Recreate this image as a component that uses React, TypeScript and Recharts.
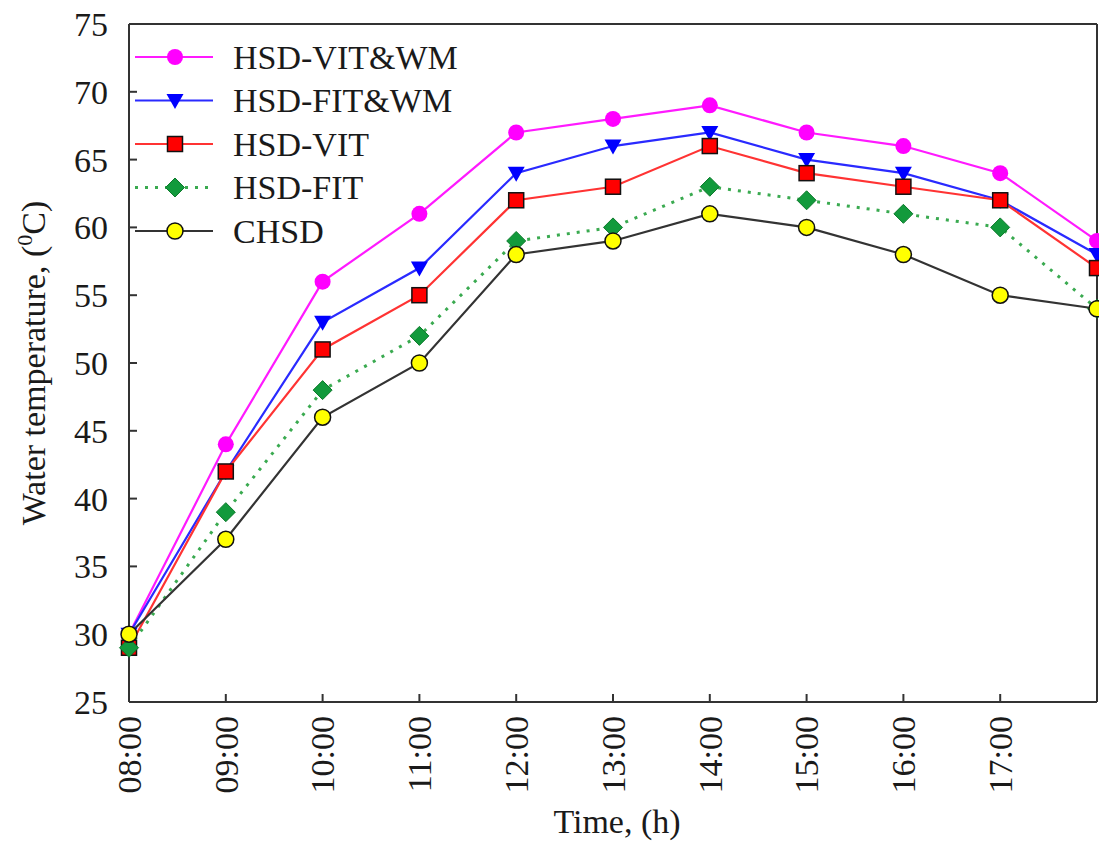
import React from 'react';
import { LineChart, Line, XAxis, YAxis, ReferenceLine, Label } from 'recharts';

const times = ['08:00', '09:00', '10:00', '11:00', '12:00', '13:00', '14:00', '15:00', '16:00', '17:00', '18:00'];
const vitWm = [30, 44, 56, 61, 67, 68, 69, 67, 66, 64, 59];
const fitWm = [30, 42, 53, 57, 64, 66, 67, 65, 64, 62, 58];
const vit = [29, 42, 51, 55, 62, 63, 66, 64, 63, 62, 57];
const fit = [29, 39, 48, 52, 59, 60, 63, 62, 61, 60, 54];
const chsd = [30, 37, 46, 50, 58, 59, 61, 60, 58, 55, 54];
const yTicks = [25, 30, 35, 40, 45, 50, 55, 60, 65, 70, 75];
const xTicks = [0, 1, 2, 3, 4, 5, 6, 7, 8, 9];

const FONT = '"Liberation Serif", "Times New Roman", serif';
const INK = '#1a1a1a';

const series = [
    { key: 'vitWm', name: 'HSD-VIT&WM', line: '#ff1aff', shape: 'circle', fill: '#ff00ff', edge: 'none', dash: undefined },
    { key: 'fitWm', name: 'HSD-FIT&WM', line: '#2a2aff', shape: 'triangle', fill: '#0000ff', edge: 'none', dash: undefined },
    { key: 'vit', name: 'HSD-VIT', line: '#ff3333', shape: 'square', fill: '#ff0000', edge: '#111', dash: undefined },
    { key: 'fit', name: 'HSD-FIT', line: '#3aaa50', shape: 'diamond', fill: '#129a3c', edge: '#0d7a2c', dash: '3 7' },
    { key: 'chsd', name: 'CHSD', line: '#333333', shape: 'circle', fill: '#ffff00', edge: '#111', dash: undefined },
];

const data = times.map((t, i) => ({
    idx: i,
    time: t,
    vitWm: vitWm[i],
    fitWm: fitWm[i],
    vit: vit[i],
    fit: fit[i],
    chsd: chsd[i],
}));

function marker(s: any, x: number, y: number, key?: string) {
    const sw = s.edge === 'none' ? 0 : 1.5;
    if (s.shape === 'circle') {
        return <circle key={key} cx={x} cy={y} r={8} fill={s.fill} stroke={s.edge} strokeWidth={sw} />;
    }
    if (s.shape === 'square') {
        return <rect key={key} x={x - 7.5} y={y - 7.5} width={15} height={15} fill={s.fill} stroke={s.edge} strokeWidth={sw} />;
    }
    if (s.shape === 'triangle') {
        return <polygon key={key} points={`${x - 8.5},${y - 6.5} ${x + 8.5},${y - 6.5} ${x},${y + 8.5}`} fill={s.fill} />;
    }
    // diamond
    return <polygon key={key} points={`${x},${y - 9.5} ${x + 9.5},${y} ${x},${y + 9.5} ${x - 9.5},${y}`} fill={s.fill} stroke={s.edge} strokeWidth={1} />;
}

function TimeTick(props: any) {
    const { x, y, payload } = props;
    return (
        <text x={x} y={y} transform={`rotate(-90 ${x} ${y})`} textAnchor="end" dy="0.35em"
            fontFamily={FONT} fontSize={34} fill={INK}>
            {times[payload.value]}
        </text>
    );
}

function YTitle(props: any) {
    const vb = props.viewBox || { y: 24, height: 678 };
    const cy = vb.y + vb.height / 2;
    const cx = 33;
    return (
        <text x={cx} y={cy} transform={`rotate(-90 ${cx} ${cy})`} textAnchor="middle" dy="0.35em"
            fontFamily={FONT} fontSize={34} fill={INK}>
            Water temperature, (<tspan fontSize={22} dy={-13}>0</tspan><tspan dy={13}>C)</tspan>
        </text>
    );
}

function XTitle(props: any) {
    const vb = props.viewBox || { x: 129, width: 968 };
    return (
        <text x={vb.x + vb.width / 2 + 4} y={833} textAnchor="middle"
            fontFamily={FONT} fontSize={34} fill={INK}>
            Time, (h)
        </text>
    );
}

function LegendBox() {
    return (
        <svg width={360} height={230} style={{ position: 'absolute', left: 130, top: 30 }}>
            {series.map((s, i) => {
                const y = 27 + i * 43.5;
                return (
                    <g key={s.key}>
                        <line x1={5} x2={83} y1={y} y2={y} stroke={s.line} strokeWidth={s.dash ? 3 : 2}
                            strokeDasharray={s.dash} />
                        {marker(s, 45, y)}
                        <text x={103} y={y} dy="0.35em" fontFamily={FONT} fontSize={34} fill={INK}>{s.name}</text>
                    </g>
                );
            })}
        </svg>
    );
}

export default function App() {
    return (
        <div style={{ position: 'absolute', left: 0, top: 0, width: 1099, height: 846, background: '#fff' }}>
            <LineChart width={1099} height={846} data={data} margin={{ top: 24, right: 2, left: 0, bottom: 0 }}>
                <XAxis dataKey="idx" type="number" domain={[0, 10]} ticks={xTicks} interval={0}
                    height={144} tickSize={-8} tickMargin={22}
                    axisLine={{ stroke: '#333', strokeWidth: 2 }} tickLine={{ stroke: '#333', strokeWidth: 2 }}
                    tick={(p: any) => <TimeTick {...p} />}>
                    <Label content={(p: any) => <XTitle {...p} />} />
                </XAxis>
                <YAxis type="number" domain={[25, 75]} ticks={yTicks} interval={0} width={129}
                    tickSize={-8} tickMargin={29}
                    axisLine={{ stroke: '#333', strokeWidth: 2 }} tickLine={{ stroke: '#333', strokeWidth: 2 }}
                    tick={{ fontFamily: FONT, fontSize: 34, fill: INK }}>
                    <Label content={(p: any) => <YTitle {...p} />} />
                </YAxis>
                <ReferenceLine y={75} stroke="#333" strokeWidth={2} />
                <ReferenceLine x={10} stroke="#333" strokeWidth={2} />
                {series.map((s) => (
                    <Line key={s.key} dataKey={s.key} name={s.name} type="linear"
                        stroke={s.line} strokeWidth={s.dash ? 3 : 2.2} strokeDasharray={s.dash}
                        isAnimationActive={false}
                        dot={(p: any) => (p.cx == null ? <g key={`${s.key}-${p.index}`} /> : marker(s, p.cx, p.cy, `${s.key}-${p.index}`))}
                        activeDot={false} />
                ))}
            </LineChart>
            <LegendBox />
        </div>
    );
}
